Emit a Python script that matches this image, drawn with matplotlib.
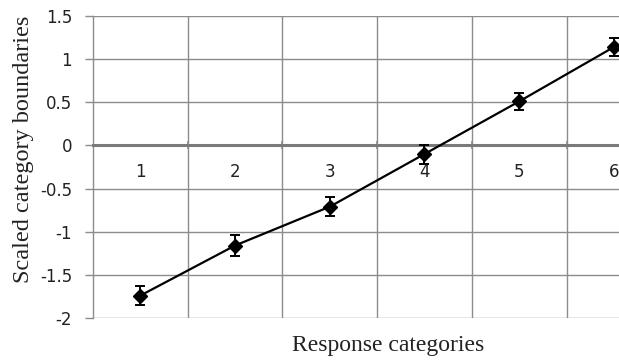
import matplotlib
matplotlib.use("Agg")
import matplotlib.pyplot as plt

# ─── DATA ─────────────────────────────────────────────────────────────────────
categories = [1, 2, 3, 4, 5, 6]
boundaries = [-1.74, -1.16, -0.71, -0.10, 0.51, 1.14]
errors     = [0.11, 0.12, 0.11, 0.11, 0.10, 0.10]
y_ticks    = [-2, -1.5, -1, -0.5, 0, 0.5, 1, 1.5]
y_labels   = ["-2", "-1.5", "-1", "-0.5", "0", "0.5", "1", "1.5"]

GRID = "#8c8c8c"
TEXT = "#222222"

fig = plt.figure(figsize=(6.19, 3.61), dpi=100)
ax = fig.add_axes([93 / 619, 43 / 361, 1 - 93 / 619, 302 / 361])

ax.errorbar(categories, boundaries, yerr=errors,
            color="black", linewidth=1.6, marker="D", markersize=7.5,
            ecolor="black", elinewidth=1.4, capsize=3.6, capthick=1.4,
            zorder=5, clip_on=False)

ax.set_xlim(0.5, 0.5 + 526 / 94.7)
ax.set_ylim(-2, 1.5)

# category boundaries as vertical grid, labels sit under the zero axis
ax.set_xticks([c + 0.5 for c in categories[:-1]])
ax.set_xticks(categories, minor=True)
ax.set_xticklabels([])
ax.set_xticklabels([str(c) for c in categories], minor=True)
ax.tick_params(axis="x", which="major", direction="inout", length=6,
               width=1.2, color=GRID)
ax.tick_params(axis="x", which="minor", length=0, pad=13, labelsize=12,
               labelcolor=TEXT)

ax.set_yticks(y_ticks)
ax.set_yticklabels(y_labels)
ax.tick_params(axis="y", direction="out", length=6, width=1.0, color=GRID,
               pad=9, labelsize=12, labelcolor=TEXT)

ax.grid(True, which="major", color=GRID, linewidth=1.0)
ax.set_axisbelow(True)

for side in ["top", "right"]:
    ax.spines[side].set_visible(False)
ax.spines["left"].set_color(GRID)
ax.spines["left"].set_linewidth(1.0)
ax.spines["bottom"].set_position(("data", 0))
ax.spines["bottom"].set_color("#7a7a7a")
ax.spines["bottom"].set_linewidth(2.2)

ax.set_ylabel("Scaled category boundaries", family="Liberation Serif",
              fontsize=17.5, color=TEXT)
ax.yaxis.set_label_coords(-0.112, 0.558)
ax.text(0.561, -0.092, "Response categories", transform=ax.transAxes,
        family="Liberation Serif", fontsize=17, color=TEXT,
        ha="center", va="center")

fig.savefig("out.png", dpi=100, facecolor="white")
